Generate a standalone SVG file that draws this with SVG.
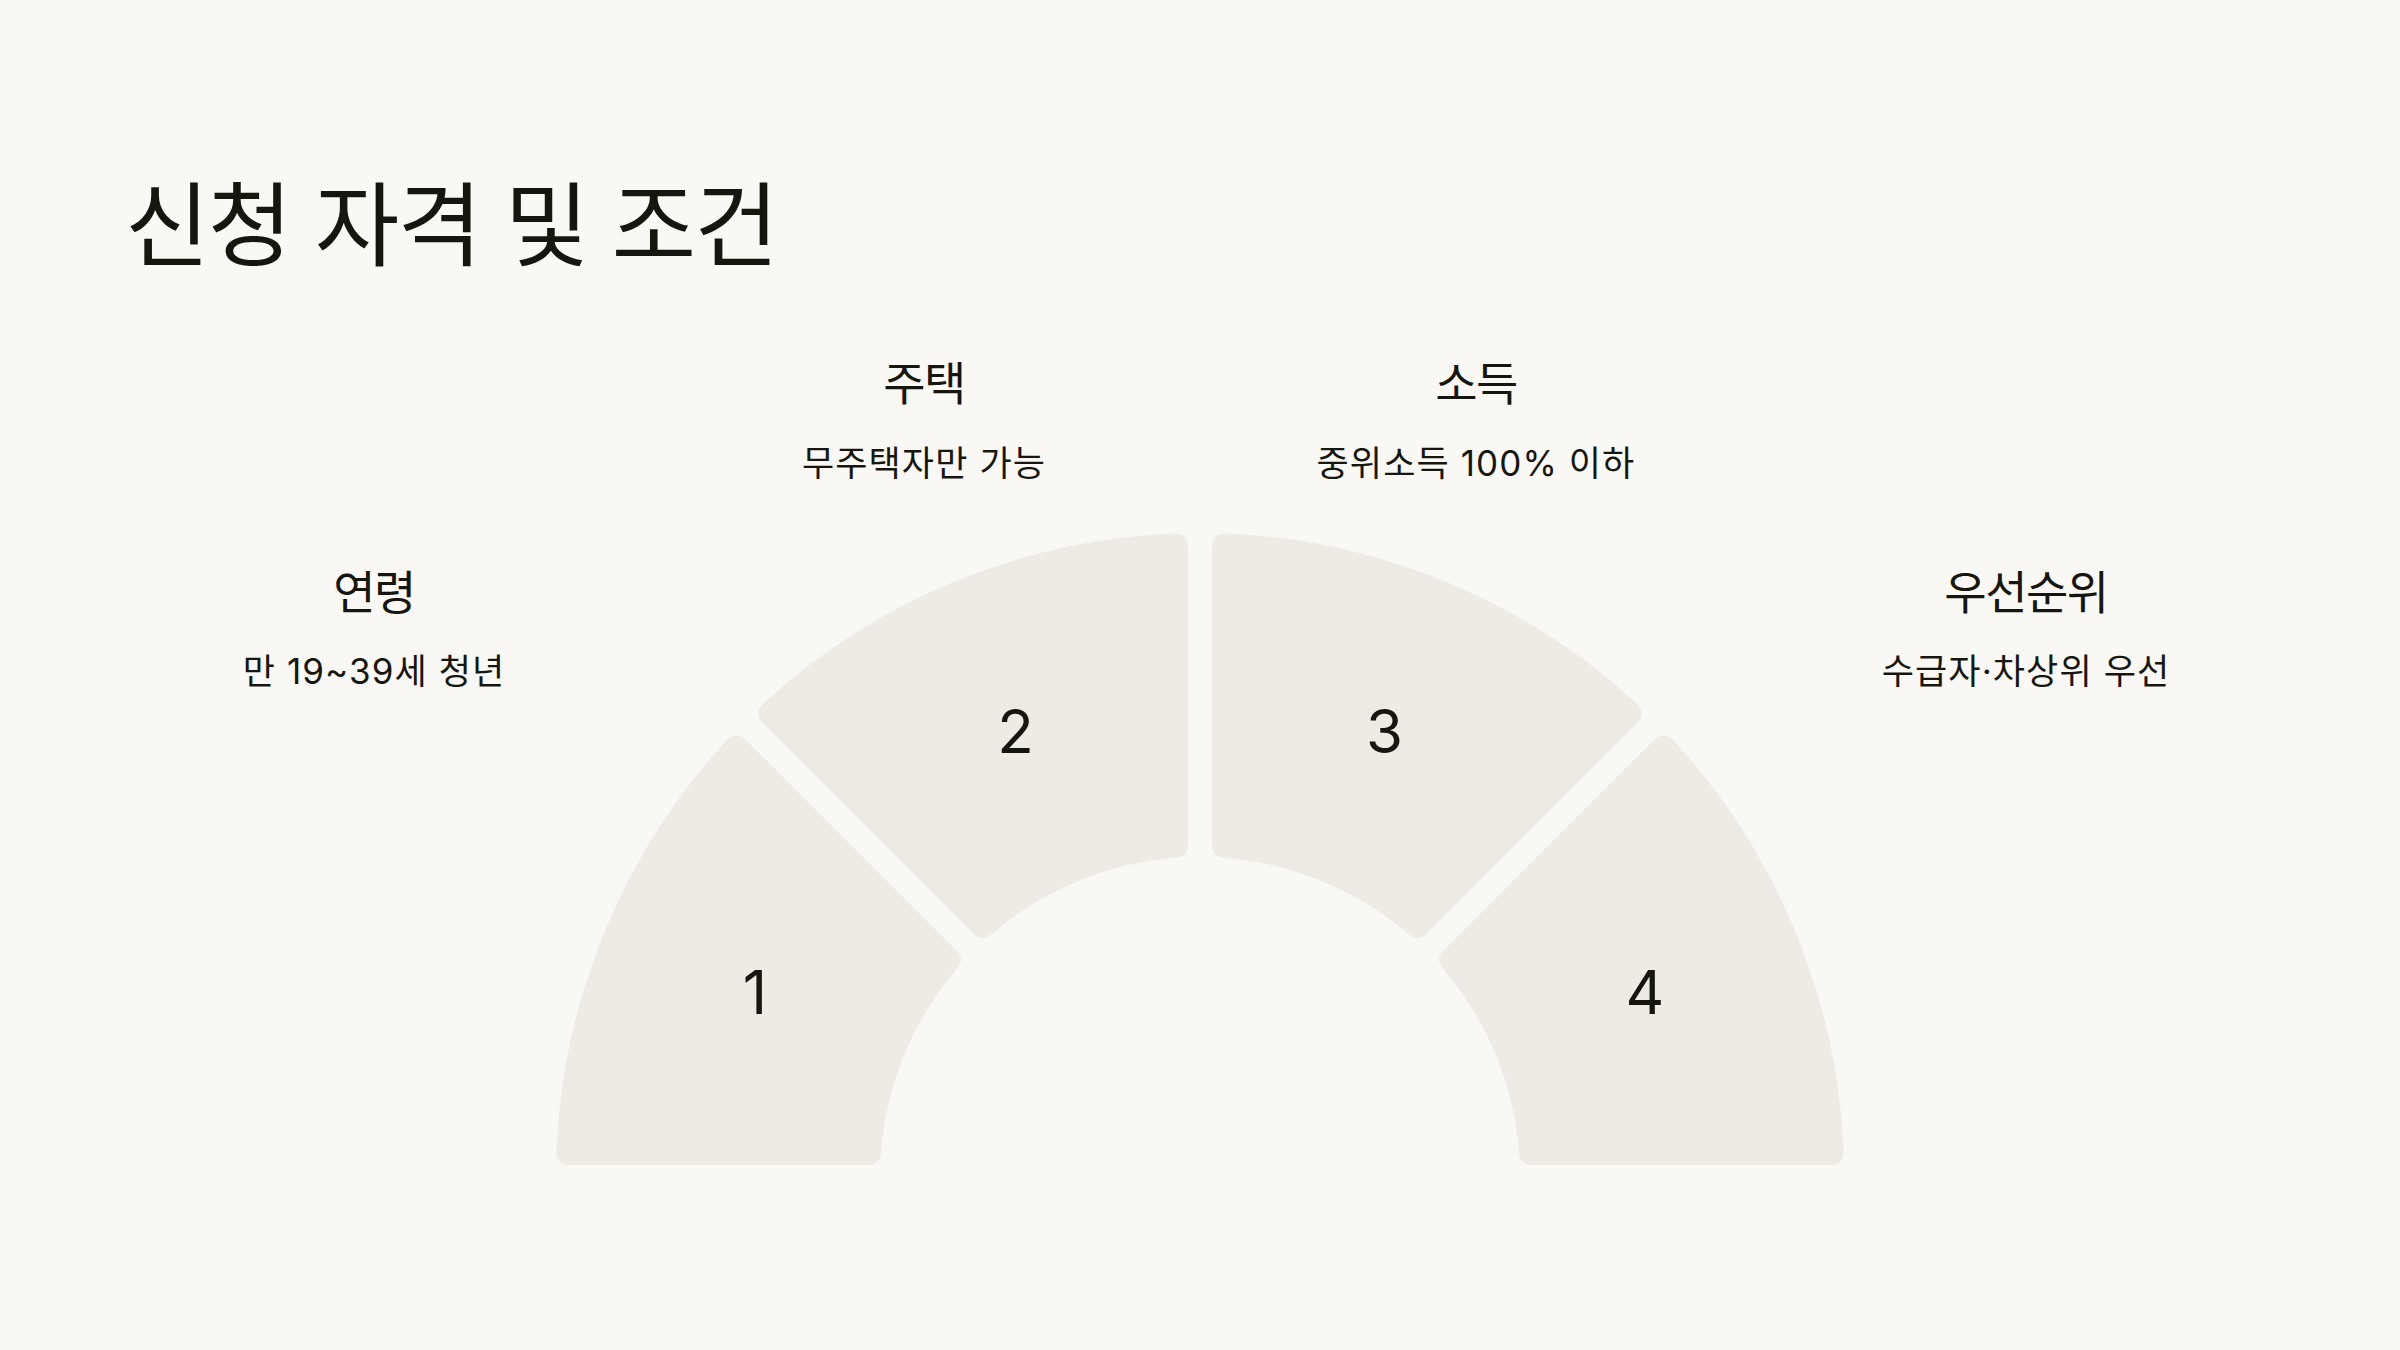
<svg xmlns="http://www.w3.org/2000/svg" width="2400" height="1350" viewBox="0 0 2400 1350">
  <style>
    .seg { fill: #eeebe4; stroke: #eeebe4; stroke-width: 24; stroke-linejoin: round; }
    .num { font-family: "Inter", "Noto Sans CJK KR", sans-serif; font-size: 60px; fill: #16160f; text-anchor: middle; }
    .title { font-family: "Inter", "Noto Sans CJK KR", sans-serif; font-size: 92px; fill: #16160f; letter-spacing: -1.8px; }
    .head { font-family: "Inter", "Noto Sans CJK KR", sans-serif; font-size: 46px; fill: #16160f; text-anchor: middle; letter-spacing: -1.5px; }
    .sub { font-family: "Inter", "Noto Sans CJK KR", sans-serif; font-size: 35px; fill: #16160f; text-anchor: middle; letter-spacing: 1.1px; }
  </style>
  <rect width="2400" height="1350" fill="#f9f8f5"/>
  <text class="title" x="125" y="259">신청 자격 및 조건</text>

  <g id="seg1">
    <path class="seg" d="M 568.46 1153 A 632 632 0 0 1 736.47 747.41 L 948.89 959.83 A 332 332 0 0 0 868.87 1153 Z"/>
    <text class="num" x="755" y="1014">1</text>
  </g>
  <g id="seg2">
    <path class="seg" d="M 770.41 713.47 A 632 632 0 0 1 1176 545.46 L 1176 845.87 A 332 332 0 0 0 982.83 925.89 Z"/>
    <text class="num" x="1015.5" y="753">2</text>
  </g>
  <g id="seg3">
    <path class="seg" d="M 1224 545.46 A 632 632 0 0 1 1629.59 713.47 L 1417.17 925.89 A 332 332 0 0 0 1224 845.87 Z"/>
    <text class="num" x="1384.5" y="753">3</text>
  </g>
  <g id="seg4">
    <path class="seg" d="M 1663.53 747.41 A 632 632 0 0 1 1831.54 1153 L 1531.13 1153 A 332 332 0 0 0 1451.11 959.83 Z"/>
    <text class="num" x="1645" y="1014">4</text>
  </g>

  <g id="label-age">
    <text class="head" x="374" y="609">연령</text>
    <text class="sub" x="374" y="684">만 19~39세 청년</text>
  </g>
  <g id="label-housing">
    <text class="head" x="924" y="400">주택</text>
    <text class="sub" x="924" y="476">무주택자만 가능</text>
  </g>
  <g id="label-income">
    <text class="head" x="1476" y="400">소득</text>
    <text class="sub" x="1476" y="476">중위소득 100% 이하</text>
  </g>
  <g id="label-priority">
    <text class="head" x="2026" y="609">우선순위</text>
    <text class="sub" x="2026" y="684">수급자·차상위 우선</text>
  </g>
  <g id="connectors"></g>
</svg>
